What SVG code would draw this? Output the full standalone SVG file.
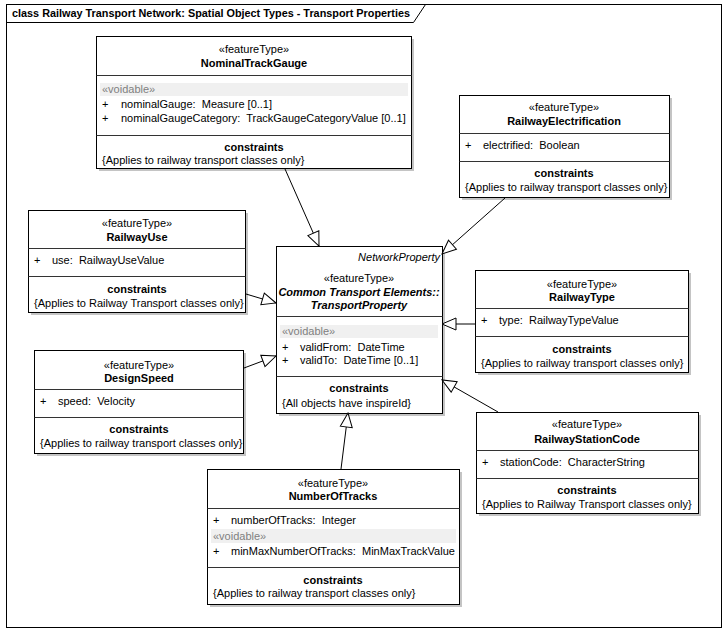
<svg xmlns="http://www.w3.org/2000/svg" width="727" height="632" viewBox="0 0 727 632">
<defs>
<style>
text{font-family:"Liberation Sans",Arial,sans-serif;font-size:11px;fill:#000}
.t{font-weight:bold;font-size:11px}
.c{text-anchor:middle}
.b{font-weight:bold}
.i{font-style:italic}
.v{fill:#808080}
.box{fill:#fff;stroke:#000;stroke-width:1}
.sh{fill:#c4c4c4}
.dv{stroke:#333;stroke-width:1}
.vb{fill:#f0f0f0}
.con line{stroke:#000;stroke-width:1;marker-end:url(#gen)}
</style>
<marker id="gen" viewBox="0 0 16 14" refX="15" refY="7" markerWidth="16" markerHeight="14" orient="auto" markerUnits="userSpaceOnUse">
<path d="M1,1 L15,7 L1,13 Z" fill="#fff" stroke="#000" stroke-width="1"/>
</marker>
<clipPath id="clipNTG"><rect x="96" y="36" width="315.5" height="132"/></clipPath>
<clipPath id="clipNOT"><rect x="207" y="469" width="252.5" height="135"/></clipPath>
</defs>
<rect width="727" height="632" fill="#fff"/>
<g id="frame">
<rect x="6.5" y="4.5" width="715" height="623" fill="#fff" stroke="#000"/>
<path d="M6.5,22.5 H413.5 L425.5,4.5" fill="none" stroke="#000"/>
<text x="12" y="17" class="t" textLength="398" lengthAdjust="spacingAndGlyphs">class Railway Transport Network: Spatial Object Types - Transport Properties</text>
</g>

<g id="NominalTrackGauge">
<rect class="sh" x="99" y="39" width="315" height="132"/>
<rect class="box" x="96.5" y="36.5" width="315" height="132"/>
<text x="254" y="53" class="c">«featureType»</text>
<text x="254" y="67" class="c b">NominalTrackGauge</text>
<line class="dv" x1="96.5" y1="75.5" x2="411.5" y2="75.5"/>
<rect class="vb" x="100" y="83" width="308" height="13"/>
<text x="102" y="93" class="v">«voidable»</text>
<g clip-path="url(#clipNTG)">
<text x="102" y="108">+</text><text x="121" y="108">nominalGauge:&#160; Measure [0..1]</text>
<text x="102" y="122">+</text><text x="121" y="122">nominalGaugeCategory:&#160; TrackGaugeCategoryValue [0..1]</text>
</g>
<line class="dv" x1="96.5" y1="135.5" x2="411.5" y2="135.5"/>
<text x="254" y="151" class="c b">constraints</text>
<text x="102" y="164">{Applies to railway transport classes only}</text>
</g>

<g id="RailwayElectrification">
<rect class="sh" x="462" y="98" width="210" height="102"/>
<rect class="box" x="459.5" y="95.5" width="210" height="102"/>
<text x="564" y="111" class="c">«featureType»</text>
<text x="564" y="125" class="c b">RailwayElectrification</text>
<line class="dv" x1="459.5" y1="133.5" x2="669.5" y2="133.5"/>
<text x="465" y="149">+</text><text x="483" y="149">electrified:&#160; Boolean</text>
<line class="dv" x1="459.5" y1="161.5" x2="669.5" y2="161.5"/>
<text x="564" y="177" class="c b">constraints</text>
<text x="465" y="191">{Applies to railway transport classes only}</text>
</g>

<g id="RailwayUse">
<rect class="sh" x="31" y="213" width="217" height="102"/>
<rect class="box" x="28.5" y="210.5" width="217" height="102"/>
<text x="137" y="227" class="c">«featureType»</text>
<text x="137" y="241" class="c b">RailwayUse</text>
<line class="dv" x1="28.5" y1="248.5" x2="245.5" y2="248.5"/>
<text x="34" y="264">+</text><text x="52" y="264">use:&#160; RailwayUseValue</text>
<line class="dv" x1="28.5" y1="276.5" x2="245.5" y2="276.5"/>
<text x="137" y="293" class="c b">constraints</text>
<text x="34" y="307">{Applies to Railway Transport classes only}</text>
</g>

<g id="TransportProperty">
<rect class="sh" x="279" y="249" width="166" height="167"/>
<rect class="box" x="276.5" y="246.5" width="166" height="167"/>
<text x="440" y="261" class="i" text-anchor="end">NetworkProperty</text>
<text x="359" y="282" class="c">«featureType»</text>
<text x="359" y="296" class="c b i">Common Transport Elements::</text>
<text x="359" y="309" class="c b i">TransportProperty</text>
<line class="dv" x1="276.5" y1="316.5" x2="442.5" y2="316.5"/>
<rect class="vb" x="280" y="325" width="158" height="13"/>
<text x="282" y="335" class="v">«voidable»</text>
<text x="282" y="351">+</text><text x="300" y="351">validFrom:&#160; DateTime</text>
<text x="282" y="364">+</text><text x="300" y="364">validTo:&#160; DateTime [0..1]</text>
<line class="dv" x1="276.5" y1="376.5" x2="442.5" y2="376.5"/>
<text x="359" y="392" class="c b">constraints</text>
<text x="282" y="407">{All objects have inspireId}</text>
</g>

<g id="RailwayType">
<rect class="sh" x="478" y="273" width="213" height="102"/>
<rect class="box" x="475.5" y="270.5" width="213" height="102"/>
<text x="582" y="288" class="c">«featureType»</text>
<text x="582" y="301" class="c b">RailwayType</text>
<line class="dv" x1="475.5" y1="308.5" x2="688.5" y2="308.5"/>
<text x="481" y="324">+</text><text x="499" y="324">type:&#160; RailwayTypeValue</text>
<line class="dv" x1="475.5" y1="336.5" x2="688.5" y2="336.5"/>
<text x="582" y="353" class="c b">constraints</text>
<text x="481" y="367">{Applies to railway transport classes only}</text>
</g>

<g id="DesignSpeed">
<rect class="sh" x="37" y="353" width="209" height="103"/>
<rect class="box" x="34.5" y="350.5" width="209" height="103"/>
<text x="139" y="369" class="c">«featureType»</text>
<text x="139" y="382" class="c b">DesignSpeed</text>
<line class="dv" x1="34.5" y1="389.5" x2="243.5" y2="389.5"/>
<text x="40" y="405">+</text><text x="58" y="405">speed:&#160; Velocity</text>
<line class="dv" x1="34.5" y1="417.5" x2="243.5" y2="417.5"/>
<text x="139" y="433" class="c b">constraints</text>
<text x="40" y="447">{Applies to railway transport classes only}</text>
</g>

<g id="RailwayStationCode">
<rect class="sh" x="479" y="415" width="222" height="101"/>
<rect class="box" x="476.5" y="412.5" width="222" height="101"/>
<text x="587" y="428" class="c">«featureType»</text>
<text x="587" y="443" class="c b">RailwayStationCode</text>
<line class="dv" x1="476.5" y1="450.5" x2="698.5" y2="450.5"/>
<text x="482" y="466">+</text><text x="500" y="466">stationCode:&#160; CharacterString</text>
<line class="dv" x1="476.5" y1="478.5" x2="698.5" y2="478.5"/>
<text x="587" y="494" class="c b">constraints</text>
<text x="482" y="508">{Applies to Railway Transport classes only}</text>
</g>

<g id="NumberOfTracks">
<rect class="sh" x="210" y="472" width="252" height="135"/>
<rect class="box" x="207.5" y="469.5" width="252" height="135"/>
<text x="333" y="487" class="c">«featureType»</text>
<text x="333" y="500" class="c b">NumberOfTracks</text>
<line class="dv" x1="207.5" y1="508.5" x2="459.5" y2="508.5"/>
<text x="213" y="524">+</text><text x="231" y="524">numberOfTracks:&#160; Integer</text>
<rect class="vb" x="211" y="529" width="245" height="14"/>
<text x="213" y="540" class="v">«voidable»</text>
<g clip-path="url(#clipNOT)">
<text x="213" y="555">+</text><text x="231" y="555">minMaxNumberOfTracks:&#160; MinMaxTrackValue</text>
</g>
<line class="dv" x1="207.5" y1="567.5" x2="459.5" y2="567.5"/>
<text x="333" y="584" class="c b">constraints</text>
<text x="213" y="597">{Applies to railway transport classes only}</text>
</g>

<g id="connectors" class="con">
<line x1="285" y1="169" x2="319" y2="246"/>
<line x1="505" y1="198" x2="442" y2="254"/>
<line x1="246" y1="294" x2="276" y2="303"/>
<line x1="244" y1="368" x2="276" y2="356"/>
<line x1="475" y1="324" x2="442" y2="324"/>
<line x1="498" y1="412" x2="442" y2="380"/>
<line x1="341" y1="469" x2="348" y2="413"/>
</g>
</svg>
